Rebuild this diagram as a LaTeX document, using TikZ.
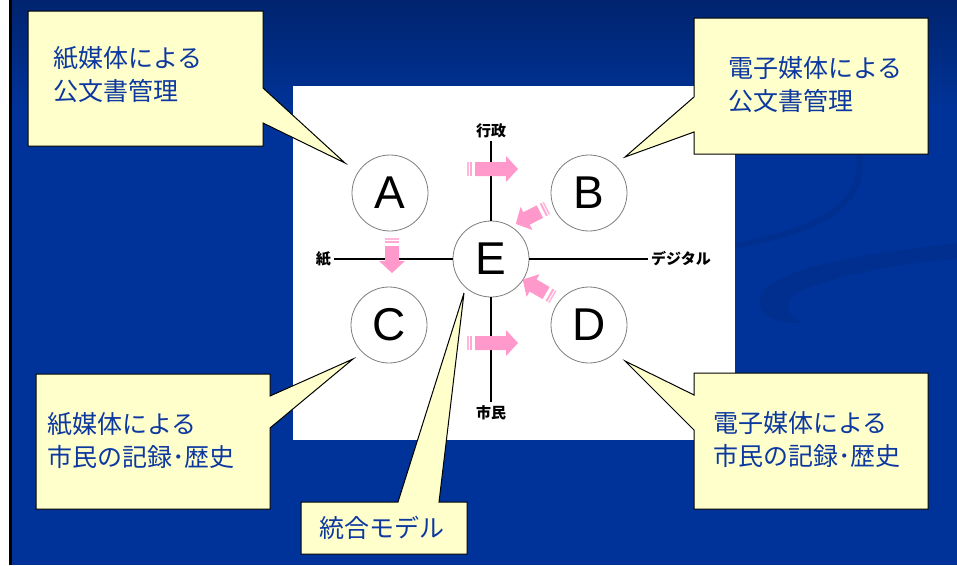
\documentclass[tikz,border=0pt]{standalone}
\usepackage{fontspec}
\setmainfont{Liberation Sans}
\newfontfamily\jp{Noto Sans CJK JP}
\definecolor{bgtop}{RGB}{0,36,110}
\definecolor{bgbot}{RGB}{0,51,153}
\definecolor{swoosh}{RGB}{0,47,144}
\definecolor{yel}{RGB}{255,255,204}
\definecolor{txtblue}{RGB}{12,56,160}
\definecolor{pinkc}{RGB}{255,153,204}
\definecolor{ringgray}{RGB}{125,125,125}
\tikzset{
  pics/sarrow/.style={code={
    \fill[pinkc!70!white] (0,-7) rectangle (1.5,7);
    \fill[pinkc!85!white] (2.6,-7) rectangle (4.6,7);
    \fill[pinkc] (8,-7) -- (#1-12,-7) -- (#1-12,-13) -- (#1,0) -- (#1-12,13) -- (#1-12,7) -- (8,7) -- cycle;
  }},
  ring/.style={circle, draw=ringgray, line width=0.8pt, fill=white, minimum size=76pt, inner sep=0pt, font=\fontsize{46}{46}\selectfont},
  axislab/.style={font=\jp\bfseries\fontsize{15}{17}\selectfont, inner sep=3pt, text=black},
  axisline/.style={line width=2.4pt, black},
  callout/.style={fill=yel, draw=black, line width=1pt, line join=miter},
  callouttext/.style={font=\jp\fontsize{25}{33}\selectfont, text=txtblue, align=left, inner sep=0pt}
}
\begin{document}
\begin{tikzpicture}[x=1pt,y=-1pt]
\useasboundingbox (0,0) rectangle (957,565);
% background
\fill[white] (0,0) rectangle (957,565);
\fill[black] (9,0) rectangle (12,565);
\fill[bgbot] (12,0) rectangle (957,565);
\shade[top color=bgtop, bottom color=bgbot] (12,0) rectangle (957,110);
\fill[swoosh] (957,243) .. controls (850,255) and (770,270) .. (760,297)
  .. controls (755,315) and (775,324) .. (802,323)
  .. controls (785,315) and (782,300) .. (802,290)
  .. controls (845,273) and (905,263) .. (957,259) -- cycle;
\draw[swoosh, line width=6pt] (735,246) .. controls (830,228) and (868,200) .. (858,150);
% white panel
\fill[white] (293,86) rectangle (735,440);
% circles
\node[ring] (A) at (390,193) {A};
\node[ring] (B) at (589,193) {B};
\node[ring] (C) at (389,325) {C};
\node[ring] (D) at (589,325) {D};
\node[ring] (E) at (491,259) {E};
% axes
\node[axislab, anchor=east] (kami) at (334,259) {紙};
\node[axislab, anchor=west] (digi) at (648,259) {デジタル};
\node[axislab, anchor=south] (gyo) at (491,141) {行政};
\node[axislab, anchor=north] (shi) at (491,402) {市民};
\draw[axisline] (kami) -- (E);
\draw[axisline] (E) -- (digi);
\draw[axisline] (gyo) -- (E);
\draw[axisline] (E) -- (shi);
% pink arrows
\pic at (467,169) {sarrow=51};
\pic at (467,343) {sarrow=51};
\pic[rotate=-90] at (392,238) {sarrow=35};
\pic[rotate=-153] at (547,208) {sarrow=35};
\pic[rotate=150] at (553,297) {sarrow=35};
% callouts
\draw[callout] (28,11) -- (263,11) -- (263,88) -- (345,163) -- (263,123) -- (263,146) -- (28,146) -- cycle;
\node[callouttext, anchor=west] (t1) at (53,75) {紙媒体による\\公文書管理};
\draw[callout] (694,18) -- (928,18) -- (928,154) -- (694,154) -- (694,132) -- (625,157) -- (694,97) -- cycle;
\node[callouttext, anchor=west] (t2) at (728,85) {電子媒体による\\公文書管理};
\draw[callout] (36,374) -- (270,374) -- (270,396) -- (353,359) -- (270,428) -- (270,509) -- (36,509) -- cycle;
\node[callouttext, anchor=west] (t3) at (47,441) {紙媒体による\\市民の記録･歴史};
\draw[callout] (694,373) -- (928,373) -- (928,509) -- (694,509) -- (694,430) -- (625,361) -- (694,395) -- cycle;
\node[callouttext, anchor=west] (t4) at (713,440) {電子媒体による\\市民の記録･歴史};
\draw[callout] (301,502) -- (398,502) -- (464,293) -- (439,502) -- (467,502) -- (467,554) -- (301,554) -- cycle;
\node[callouttext] (t5) at (382,528) {統合モデル};
\end{tikzpicture}
\end{document}
